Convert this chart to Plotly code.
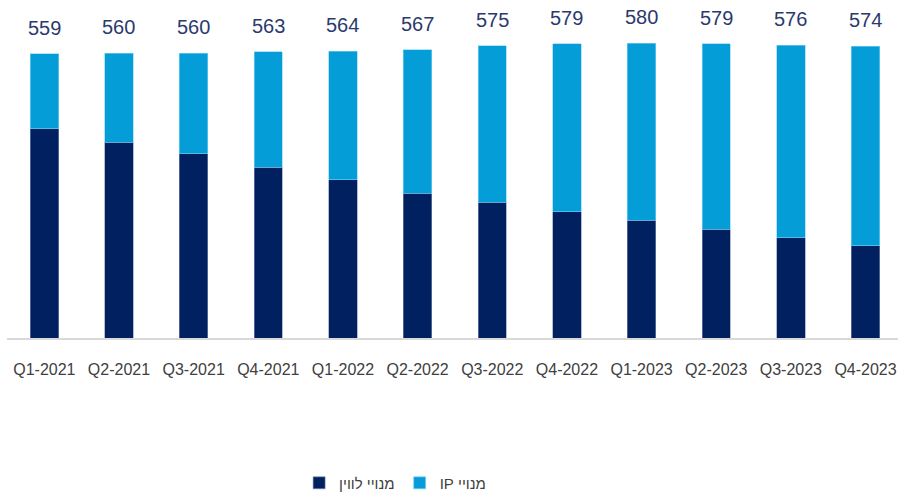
import plotly.graph_objects as go

quarters = ["Q1-2021", "Q2-2021", "Q3-2021", "Q4-2021", "Q1-2022", "Q2-2022",
            "Q3-2022", "Q4-2022", "Q1-2023", "Q2-2023", "Q3-2023", "Q4-2023"]
totals = [559, 560, 560, 563, 564, 567, 575, 579, 580, 579, 576, 574]
satellite = [411, 385, 362, 336, 311, 285, 267, 248, 232, 214, 197, 181]
ip_subs = [t - s for t, s in zip(totals, satellite)]

FONT = "Liberation Sans, Arial, sans-serif"

fig = go.Figure()
fig.add_trace(go.Bar(x=quarters, y=satellite, name="מנויי לווין",
                     marker=dict(color="#002060", line=dict(width=0.6, color="#8090b8")),
                     hoverinfo="y"))
fig.add_trace(go.Bar(x=quarters, y=ip_subs, name="\u202bמנויי IP\u202c",
                     marker=dict(color="#049dd8", line=dict(width=0.6, color="#7fd4f5")),
                     hoverinfo="y"))

# totals above each stack
for q, t in zip(quarters, totals):
    fig.add_annotation(x=q, y=t, text=str(t), showarrow=False, yanchor="bottom", yshift=13,
                       font=dict(family=FONT, size=20, color="#2b3a6e"))

fig.update_layout(
    barmode="stack", bargap=0.62,
    width=898, height=497,
    margin=dict(l=7, r=0, t=0, b=159),
    plot_bgcolor="white", paper_bgcolor="white",
    font=dict(family=FONT),
    legend=dict(orientation="h", xref="container", yref="container",
                x=0.44, xanchor="center", y=0.028, yanchor="middle",
                font=dict(family=FONT, size=15, color="#404040"),
                traceorder="normal"),
)
fig.update_xaxes(range=[-0.5, 11.435], showline=True, linecolor="#d9d9d9", linewidth=1.5,
                 ticks="", tickfont=dict(family=FONT, size=16, color="#404040"), ticklabelstandoff=16)
fig.update_yaxes(range=[0, 664.6], visible=False, showgrid=False, zeroline=False)

fig.write_html("out.html", config={"displayModeBar": False},
               post_script="document.body.style.margin='0';")
